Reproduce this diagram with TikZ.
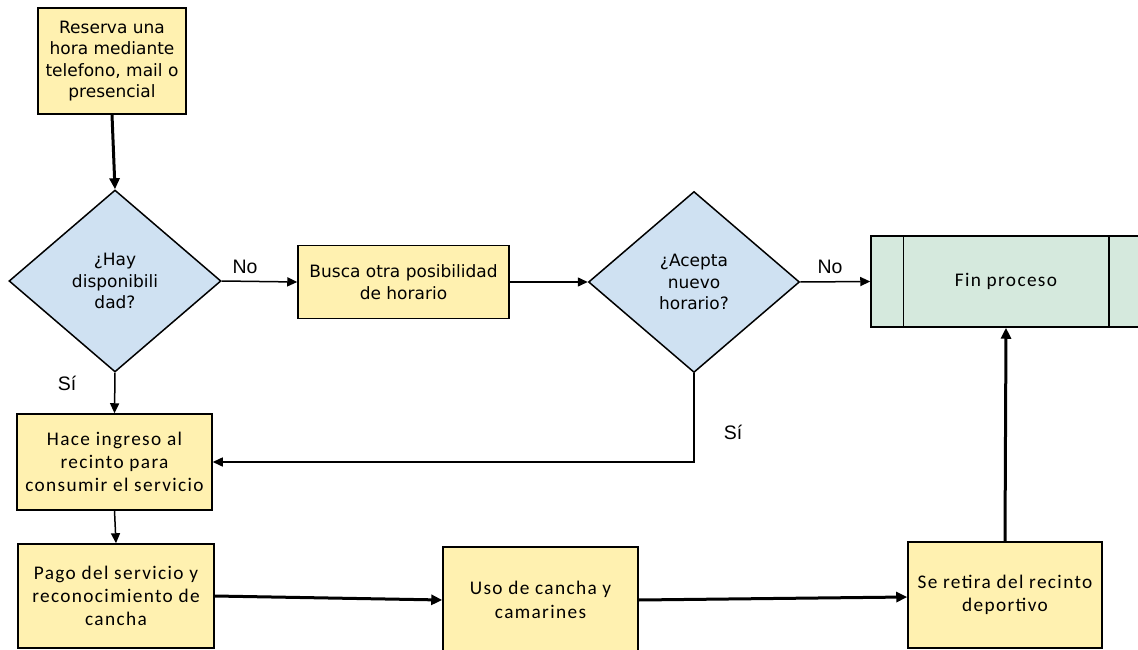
\documentclass[tikz,border=0pt]{standalone}
\usepackage{fontspec}
\setmainfont{DejaVu Sans}
\newfontfamily\calib[LetterSpace=7]{Carlito}
\newfontfamily\arialf{Liberation Sans}
\usetikzlibrary{shapes.geometric,arrows.meta}
\definecolor{boxy}{RGB}{255,241,176}
\definecolor{diab}{RGB}{207,225,242}
\definecolor{greenb}{RGB}{213,233,221}
\begin{document}
\begin{tikzpicture}[x=1pt,y=-1pt,
  ybox/.style={draw=black, line width=1.5pt, fill=boxy, inner sep=0pt, align=center, font=\fontsize{17}{21.5}\selectfont},
  cbox/.style={ybox, font=\calib\fontsize{19.3}{23.3}\selectfont},
  gbox/.style={cbox, fill=greenb},
  dia/.style={diamond, draw=black, line width=1.5pt, fill=diab, inner sep=0pt, align=center, font=\fontsize{17}{21.5}\selectfont},
  lab/.style={font=\arialf\fontsize{19.5}{22}\selectfont, inner sep=0pt},
  smallarrow/.style={line width=1.5pt, -{Triangle[length=10pt,width=9pt]}},
  bigarrow/.style={line width=3pt, -{Triangle[length=11pt,width=10pt]}}]
\useasboundingbox (0,0) rectangle (1138,650);
\clip (0,0) rectangle (1138,650);

\node[ybox,minimum width=148pt,minimum height=106pt] (res) at (112,61) {Reserva una\\hora mediante\\telefono, mail o\\presencial};
\node[dia,minimum width=212pt,minimum height=182pt] (d1) at (115,281) {¿Hay\\disponibili\\dad?};
\node[ybox,minimum width=211pt,minimum height=73pt] (bus) at (403.5,282) {Busca otra posibilidad\\de horario};
\node[dia,minimum width=211pt,minimum height=181pt] (d2) at (694,282) {¿Acepta\\nuevo\\horario?};
\node[gbox,minimum width=270pt,minimum height=91pt] (fin) at (1006,281.5) {Fin proceso};
\draw[line width=1.5pt] ([xshift=33pt]fin.north west) -- ([xshift=33pt]fin.south west);
\draw[line width=1.5pt] ([xshift=-33pt]fin.north east) -- ([xshift=-33pt]fin.south east);
\node[cbox,minimum width=195pt,minimum height=96pt] (hace) at (114.5,462) {Hace ingreso al\\recinto para\\consumir el servicio};
\node[cbox,minimum width=196pt,minimum height=104pt] (pago) at (116,596) {Pago del servicio y\\reconocimiento de\\cancha};
\node[cbox,minimum width=195pt,minimum height=106pt] (uso) at (540.5,600) {Uso de cancha y\\camarines};
\node[cbox,minimum width=194pt,minimum height=106pt] (ret) at (1005,595) {Se retira del recinto\\deportivo};

\node[lab] (no1) at (245,267) {No};
\node[lab] (no2) at (830,267) {No};
\node[lab] (si1) at (67,383) {Sí};
\node[lab] (si2) at (733,432) {Sí};

\draw[bigarrow] (res.south) -- (d1.north);
\draw[smallarrow] (d1.east) -- (bus.west);
\draw[smallarrow] (bus.east) -- (d2.west);
\draw[smallarrow] (d2.east) -- (fin.west);
\draw[smallarrow] (d1.south) -- (hace.north);
\draw[smallarrow] (d2.south) |- (hace.east);
\draw[smallarrow] (hace.south) -- (pago.north);
\draw[bigarrow] (pago.east) -- (uso.west);
\draw[bigarrow] (uso.east) -- ([yshift=3pt]uso.east -| ret.west);
\draw[bigarrow] (ret.north) -- (fin.south);
\end{tikzpicture}
\end{document}
